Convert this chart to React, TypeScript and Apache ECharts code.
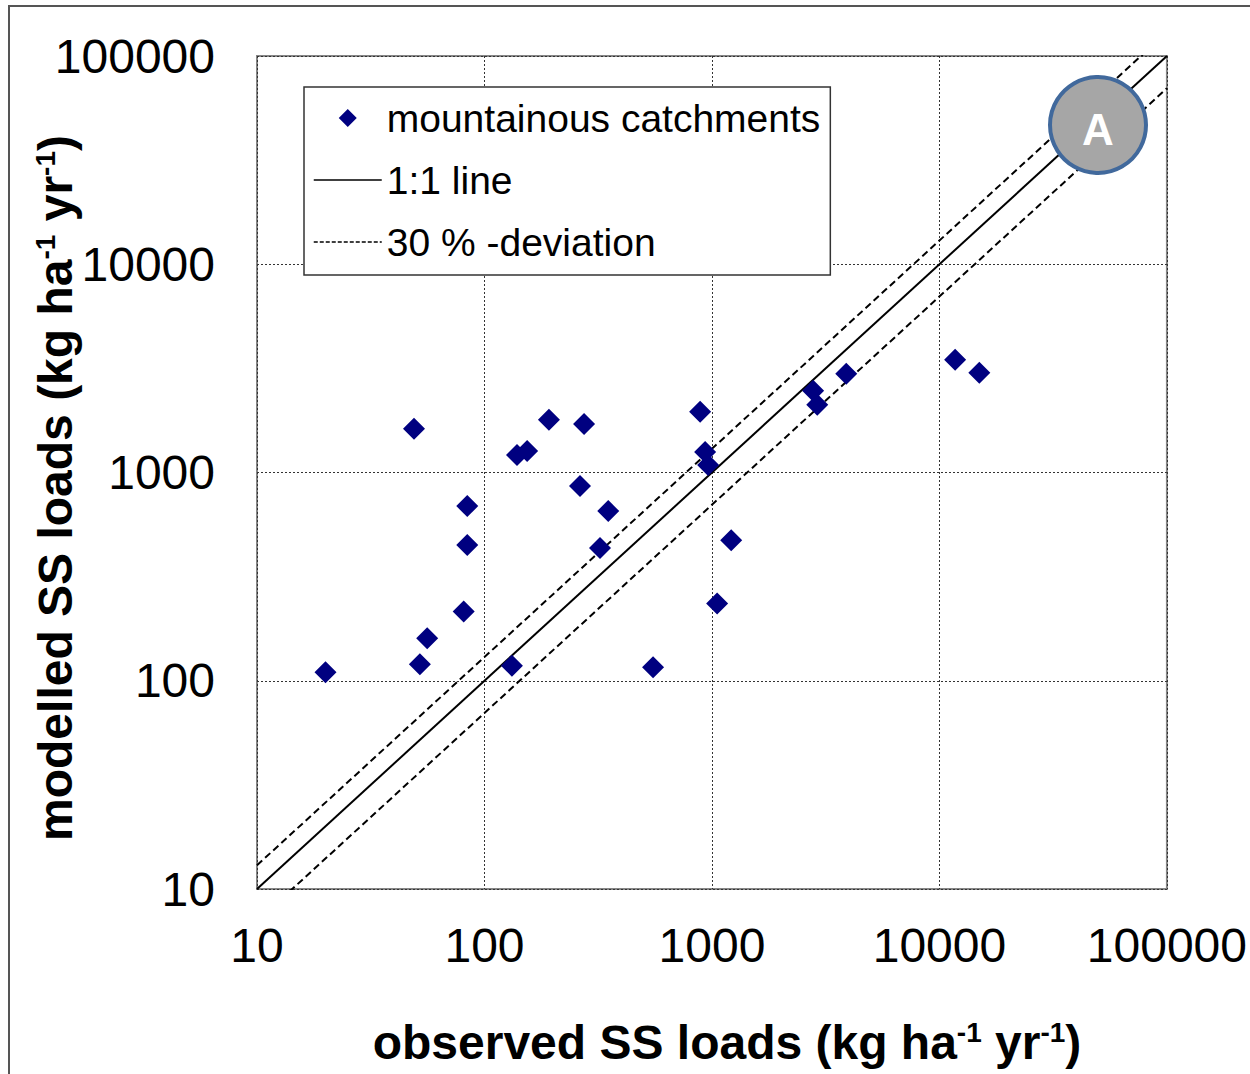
import React, { useEffect, useRef } from "react";
import * as echarts from "echarts";

const observed = [20, 49, 52, 56, 81, 84, 84, 132, 139, 154, 192, 274, 263, 350, 322, 551, 887, 933, 962, 1054, 1215, 2785, 2903, 3893, 11720, 14970];
const modelled = [110, 1620, 120, 160, 215, 448, 690, 118, 1213, 1268, 1790, 1711, 861, 653, 434, 116, 1955, 1256, 1087, 235, 473, 2466, 2113, 2978, 3475, 3013];
const oneToOneLine = [[10, 10], [100000, 100000]];
const upperDeviation = [[10, 13], [100000, 130000]];
const lowerDeviation = [[10, 7], [100000, 70000]];
const seriesNames = ["mountainous catchments", "1:1 line", "30 % -deviation"];

const FONT = "'Liberation Sans', Arial, sans-serif";

function titleStyle(text: string) {
  return {
    text,
    align: "center",
    verticalAlign: "middle",
    fill: "#000",
    rich: {
      a: { fontSize: 48, fontWeight: "bold", fontFamily: FONT, lineHeight: 48, verticalAlign: "bottom", fill: "#000" },
      s: { fontSize: 28, fontWeight: "bold", fontFamily: FONT, lineHeight: 28, verticalAlign: "top", padding: [0, 0, 32, 0], fill: "#000" },
    },
  };
}

export default function App() {
  const ref = useRef<HTMLDivElement>(null);
  useEffect(() => {
    if (!ref.current) return;
    const chart = echarts.init(ref.current, undefined, { renderer: "svg" });
    const scatterData = observed.map((x, i) => [x, modelled[i]]);
    const fmt = (v: number) => String(Math.round(v));
    const hiddenSymbol = { color: "rgba(0,0,0,0)", borderWidth: 0, opacity: 0 };
    chart.setOption({
      animation: false,
      backgroundColor: "#fff",
      grid: {
        left: 257,
        top: 56,
        right: 83,
        bottom: 185,
        show: true,
        borderColor: "#868686",
        borderWidth: 2,
      },
      xAxis: {
        type: "log",
        logBase: 10,
        min: 10,
        max: 100000,
        axisLine: { show: false },
        axisTick: { show: false },
        axisLabel: { margin: 32, fontSize: 48, color: "#000", fontFamily: FONT, formatter: fmt },
        splitLine: { show: true, lineStyle: { color: "#333", type: [2, 2], width: 1 } },
      },
      yAxis: {
        type: "log",
        logBase: 10,
        min: 10,
        max: 100000,
        axisLine: { show: false },
        axisTick: { show: false },
        axisLabel: { margin: 42, fontSize: 48, color: "#000", fontFamily: FONT, formatter: fmt },
        splitLine: { show: true, lineStyle: { color: "#333", type: [2, 2], width: 1 } },
      },
      legend: {
        orient: "vertical",
        left: 304,
        top: 87,
        padding: [9, 10, 11, 9],
        itemWidth: 68,
        itemHeight: 18,
        itemGap: 18,
        selectedMode: false,
        symbolKeepAspect: true,
        backgroundColor: "#fff",
        borderColor: "#333",
        borderWidth: 1.5,
        borderRadius: 0,
        textStyle: { fontSize: 39, lineHeight: 44, color: "#000", fontFamily: FONT },
        data: [
          { name: seriesNames[0], icon: "path://M0,-1L1,0L0,1L-1,0Z", itemStyle: { color: "#000080", opacity: 1 } },
          { name: seriesNames[1], lineStyle: { width: 1.5 }, itemStyle: hiddenSymbol },
          { name: seriesNames[2], lineStyle: { width: 1.5, type: [4, 2] }, itemStyle: hiddenSymbol },
        ],
      },
      series: [
        {
          name: seriesNames[0],
          type: "scatter",
          symbol: "diamond",
          symbolSize: 22,
          itemStyle: { color: "#000080", opacity: 1 },
          data: scatterData,
          z: 4,
        },
        {
          name: seriesNames[1],
          type: "line",
          symbol: "none",
          clip: true,
          lineStyle: { color: "#000", width: 2 },
          itemStyle: { color: "#000" },
          data: oneToOneLine,
          z: 3,
        },
        {
          name: seriesNames[2],
          type: "line",
          symbol: "none",
          clip: true,
          lineStyle: { color: "#000", width: 2, type: [7, 4] },
          itemStyle: { color: "#000" },
          data: upperDeviation,
          z: 3,
        },
        {
          name: seriesNames[2],
          type: "line",
          symbol: "none",
          clip: true,
          lineStyle: { color: "#000", width: 2, type: [7, 4] },
          itemStyle: { color: "#000" },
          data: lowerDeviation,
          z: 3,
        },
      ],
      graphic: [
        {
          type: "rect",
          z: 0,
          silent: true,
          shape: { x: 9, y: 6, width: 1300, height: 1200 },
          style: { fill: "none", stroke: "#555", lineWidth: 2 },
        },
        {
          type: "text",
          x: 727,
          y: 1042,
          silent: true,
          style: titleStyle("{a|observed SS loads (kg ha}{s|-1}{a| yr}{s|-1}{a|)}"),
        },
        {
          type: "text",
          x: 55,
          y: 488,
          rotation: Math.PI / 2,
          silent: true,
          style: titleStyle("{a|modelled SS loads (kg ha}{s|-1}{a| yr}{s|-1}{a|)}"),
        },
        {
          type: "circle",
          z: 100,
          silent: true,
          shape: { cx: 1098, cy: 125, r: 48 },
          style: { fill: "#A6A6A6", stroke: "#41699C", lineWidth: 4 },
        },
        {
          type: "text",
          z: 101,
          x: 1098,
          y: 129,
          silent: true,
          style: { text: "A", fill: "#fff", fontSize: 44, fontWeight: "bold", fontFamily: FONT, align: "center", verticalAlign: "middle" },
        },
      ],
    });
    return () => chart.dispose();
  }, []);
  return <div ref={ref} style={{ position: "absolute", left: 0, top: 0, width: 1250, height: 1074 }} />;
}
